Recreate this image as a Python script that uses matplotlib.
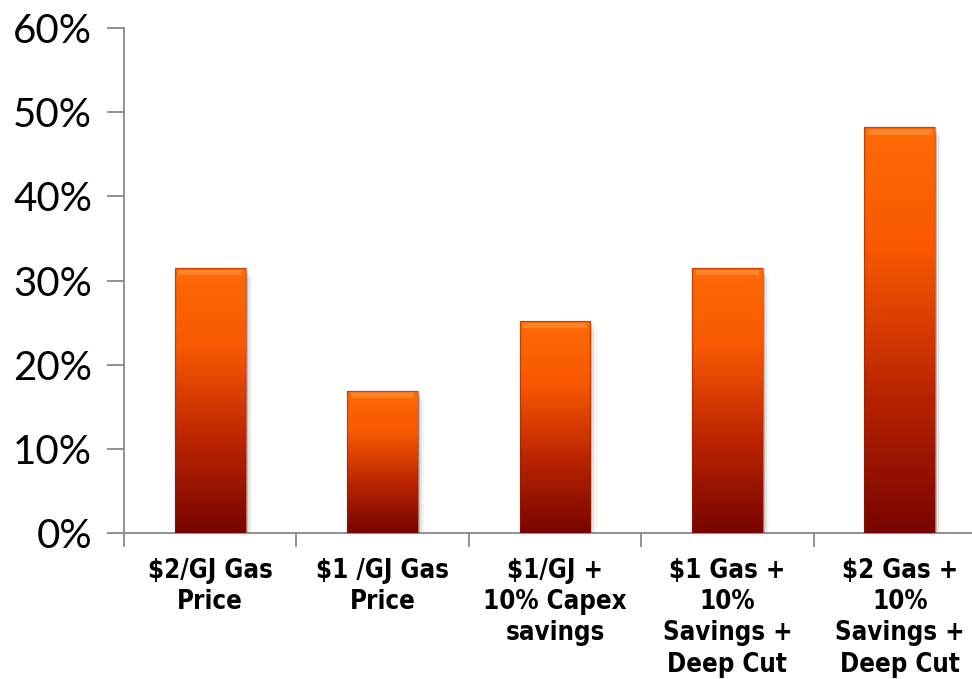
import numpy as np
import matplotlib.pyplot as plt
from matplotlib.colors import LinearSegmentedColormap
from matplotlib.patches import Rectangle

# Data
categories = ["$2/GJ Gas\nPrice", "$1 /GJ Gas\nPrice", "$1/GJ +\n10% Capex\nsavings",
              "$1 Gas +\n10%\nSavings +\nDeep Cut", "$2 Gas +\n10%\nSavings +\nDeep Cut"]
values = [31.5, 16.9, 25.2, 31.5, 48.2]
yticks = [0, 10, 20, 30, 40, 50, 60]

W, H = 972, 679
fig = plt.figure(figsize=(W / 100, H / 100), dpi=100)
# axis spans beyond the right edge of the picture, like the original
ax = fig.add_axes([124 / W, (H - 533) / H, 862 / W, 505 / H])

x = np.arange(len(values))
bw = 0.41
grad = LinearSegmentedColormap.from_list(
    "g", [(0, "#780400"), (0.35, "#bb2500"), (0.7, "#f85800"), (1, "#ff6a06")])
g = np.linspace(0, 1, 256).reshape(-1, 1)

bars = ax.bar(x, values, width=bw, color="none", zorder=3)
for b in bars:
    x0, y0, w, h = b.get_x(), b.get_y(), b.get_width(), b.get_height()
    # soft shadow
    for i, a in enumerate([0.10, 0.07, 0.04]):
        d = 0.012 * (i + 1)
        ax.add_patch(Rectangle((x0 + d, y0 - 0.35 * (i + 1)), w, h,
                               color="black", alpha=a, lw=0, zorder=2))
    im = ax.imshow(g, cmap=grad, aspect="auto", origin="lower",
                   extent=(x0, x0 + w, y0, y0 + h), zorder=3)
    im.set_clip_path(b)
    # light bevel at the top
    ax.add_patch(Rectangle((x0 + 0.02, y0 + h - 0.9), w - 0.04, 0.7,
                           color="#ff9a45", alpha=0.55, lw=0, zorder=4))
    ax.add_patch(Rectangle((x0, y0), w, h, fill=False, ec="#8a2000", lw=1.0, alpha=0.5, zorder=4))

ax.set_xlim(-0.5, len(values) - 0.5)
ax.set_ylim(0, 60)
ax.set_yticks(yticks)
ax.set_yticklabels([f"{t}%" for t in yticks], fontsize=29, family=["Lato", "DejaVu Sans"])
ax.set_xticks(np.arange(len(values) + 1) - 0.5, minor=True)
ax.set_xticks(x)
ax.set_xticklabels(categories, fontsize=18.5, fontweight="bold",
                   family=["DejaVu Sans"], stretch="condensed", linespacing=1.26)
ax.tick_params(axis="x", which="major", length=0, pad=18)
ax.tick_params(axis="x", which="minor", length=10, color="#888888", width=1.3)
ax.tick_params(axis="y", length=12, color="#888888", width=1.3, pad=11)

for s in ["top", "right"]:
    ax.spines[s].set_visible(False)
for s in ["left", "bottom"]:
    ax.spines[s].set_color("#888888")
    ax.spines[s].set_linewidth(1.3)

fig.savefig("out.png", dpi=100)
